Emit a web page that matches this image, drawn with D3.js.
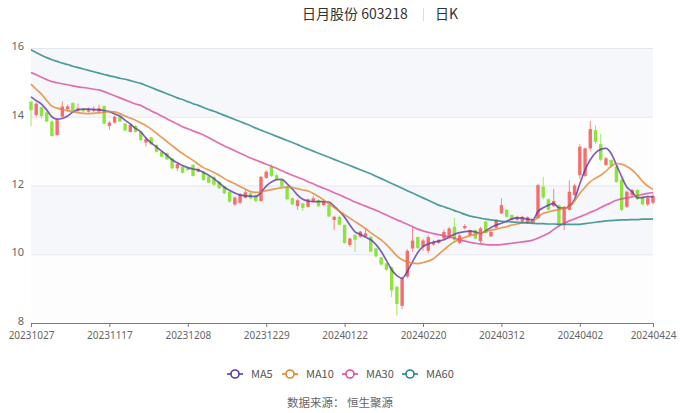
<!DOCTYPE html>
<html>
<head>
<meta charset="utf-8">
<script src="https://cdn.jsdelivr.net/npm/d3@7/dist/d3.min.js"></script>
<style>
	html, body { margin: 0; padding: 0; background: #fff; }
	svg text { font-family: "Noto Sans CJK SC", "Noto Sans", sans-serif; }
	svg .axis text { font-family: "Noto Sans", sans-serif; }
</style>
</head>
<body>
<svg id="chart" width="680" height="413"></svg>
<script>
// trading days 20231027 .. 20240424
var dates = [
	"20231027","20231030","20231031",
	"20231101","20231102","20231103","20231106","20231107","20231108","20231109","20231110","20231113","20231114","20231115","20231116","20231117","20231120","20231121","20231122","20231123","20231124","20231127","20231128","20231129","20231130",
	"20231201","20231204","20231205","20231206","20231207","20231208","20231211","20231212","20231213","20231214","20231215","20231218","20231219","20231220","20231221","20231222","20231225","20231226","20231227","20231228","20231229",
	"20240102","20240103","20240104","20240105","20240108","20240109","20240110","20240111","20240112","20240115","20240116","20240117","20240118","20240119","20240122","20240123","20240124","20240125","20240126","20240129","20240130","20240131",
	"20240201","20240202","20240205","20240206","20240207","20240208","20240219","20240220","20240221","20240222","20240223","20240226","20240227","20240228","20240229",
	"20240301","20240304","20240305","20240306","20240307","20240308","20240311","20240312","20240313","20240314","20240315","20240318","20240319","20240320","20240321","20240322","20240325","20240326","20240327","20240328","20240329",
	"20240401","20240402","20240403","20240408","20240409","20240410","20240411","20240412","20240415","20240416","20240417","20240418","20240419","20240422","20240423","20240424"
];

var opens = [
	14.44,14.05,14.28,14.12,13.86,13.47,14.0,14.22,14.4,14.2,
	14.22,14.15,14.18,14.15,14.31,13.73,13.83,14.0,13.8,13.56,
	13.73,13.56,13.25,13.4,13.18,12.98,12.94,12.79,12.5,12.55,
	12.5,12.6,12.4,12.4,12.26,12.25,12.11,11.97,11.82,11.45,
	11.5,11.64,11.77,11.72,11.55,12.22,12.55,12.3,12.16,11.97,
	11.63,11.4,11.48,11.38,11.54,11.58,11.43,11.43,11.0,11.09,
	10.85,10.27,10.56,10.51,10.52,10.51,10.17,9.91,9.73,9.62,
	9.05,8.5,9.35,10.17,10.5,10.22,10.1,10.28,10.33,10.46,
	10.47,10.8,10.33,10.76,10.56,10.7,10.38,10.95,10.52,10.77,
	11.19,11.29,11.14,11.0,10.95,10.9,10.9,11.05,11.97,11.6,
	11.4,11.43,10.85,11.29,11.72,12.3,12.28,13.08,13.61,13.2,
	12.6,12.74,12.55,12.16,11.38,11.72,11.87,11.67,11.45,11.5
];
var closes = [
	14.19,14.38,14.02,13.86,13.44,13.9,14.3,14.3,14.18,14.25,
	14.16,14.22,14.23,14.25,13.8,13.83,14.0,13.86,13.6,13.76,
	13.56,13.32,13.35,13.2,12.98,12.84,12.76,12.5,12.62,12.37,
	12.45,12.28,12.48,12.16,12.08,12.02,11.92,11.77,11.53,11.65,
	11.75,11.8,11.62,11.55,12.25,12.4,12.28,12.18,11.97,11.6,
	11.45,11.57,11.35,11.6,11.63,11.4,11.53,11.1,11.09,10.86,
	10.33,10.46,10.42,10.66,10.61,10.08,9.94,9.7,9.55,8.95,
	8.55,9.3,10.1,10.4,10.18,10.4,10.5,10.36,10.42,10.65,
	10.75,10.42,10.55,10.82,10.7,10.46,10.75,10.62,10.65,11.0,
	11.43,11.09,11.0,11.09,11.09,11.08,11.0,12.01,11.65,11.29,
	11.55,10.85,11.38,11.82,12.0,13.13,13.08,13.64,13.27,12.75,
	12.79,12.58,12.1,11.29,11.82,11.87,11.6,11.45,11.65,11.7
];
var highs = [
	14.46,14.42,14.3,14.15,13.9,13.95,14.45,14.35,14.42,14.38,
	14.26,14.27,14.3,14.35,14.33,13.88,14.03,14.03,13.82,13.78,
	13.75,13.58,13.42,13.42,13.2,13.0,12.96,12.8,12.65,12.57,
	12.52,12.62,12.52,12.42,12.28,12.27,12.13,11.99,11.84,11.68,
	11.78,11.88,11.8,11.74,12.28,12.45,12.62,12.35,12.18,11.99,
	11.65,11.6,11.5,11.62,11.7,11.6,11.55,11.45,11.12,11.1,
	10.87,10.48,10.6,10.68,10.75,10.53,10.19,9.93,9.75,9.65,
	9.1,9.35,10.15,10.8,10.52,10.45,10.55,10.42,10.45,10.72,
	10.8,11.05,10.58,10.88,10.72,10.72,10.8,10.97,10.68,11.02,
	11.63,11.32,11.16,11.12,11.12,11.1,11.02,12.05,12.25,11.62,
	11.9,11.45,11.4,12.15,12.05,13.2,13.1,13.88,13.75,13.5,
	12.83,12.76,12.58,12.2,11.85,11.9,11.9,11.7,11.7,11.75
];
var lows = [
	13.73,14.0,13.95,13.84,13.42,13.44,13.98,14.15,14.15,14.15,
	14.12,14.12,14.14,14.12,13.78,13.62,13.8,13.84,13.58,13.54,
	13.54,13.3,13.13,13.18,12.96,12.82,12.74,12.48,12.42,12.35,
	12.42,12.26,12.38,12.14,12.06,12.0,11.9,11.75,11.5,11.4,
	11.45,11.62,11.6,11.52,11.53,12.2,12.25,12.16,11.95,11.58,
	11.43,11.29,11.26,11.36,11.52,11.38,11.4,11.08,10.7,10.84,
	10.3,10.22,10.07,10.48,10.5,10.05,9.9,9.67,9.52,8.75,
	8.22,8.4,9.3,10.07,10.15,10.1,10.03,10.25,10.3,10.44,
	10.45,10.33,10.3,10.72,10.54,10.44,10.32,10.6,10.5,10.75,
	11.17,11.07,10.98,10.98,10.93,10.88,10.88,11.03,11.6,11.27,
	11.38,10.82,10.7,11.27,11.7,12.2,12.25,13.0,13.2,12.7,
	12.57,12.53,12.08,11.25,11.35,11.7,11.58,11.43,11.4,11.45
];

var ma5 = [
	14.58,14.47,14.37,14.2,14.0,13.93,13.95,14.02,14.14,14.2,
	14.22,14.22,14.21,14.2,14.18,14.15,14.08,14.02,13.9,13.79,
	13.66,13.56,13.38,13.24,13.12,13.0,12.88,12.75,12.66,12.58,
	12.52,12.48,12.45,12.38,12.3,12.2,12.08,11.95,11.86,11.78,
	11.72,11.7,11.69,11.68,11.8,11.98,12.1,12.17,12.18,12.05,
	11.9,11.72,11.6,11.55,11.53,11.53,11.53,11.52,11.4,11.25,
	11.08,10.85,10.65,10.58,10.5,10.42,10.28,10.08,9.82,9.55,
	9.38,9.3,9.5,9.78,10.05,10.22,10.3,10.35,10.38,10.42,
	10.5,10.58,10.63,10.66,10.67,10.65,10.61,10.68,10.78,10.85,
	10.9,10.96,11.03,11.06,11.05,11.02,11.0,11.25,11.35,11.43,
	11.48,11.35,11.34,11.4,11.6,12.05,12.45,12.75,12.95,13.05,
	13.08,12.93,12.6,12.26,11.95,11.82,11.65,11.65,11.68,11.67
];
var ma10 = [
	14.95,14.8,14.66,14.47,14.31,14.25,14.21,14.18,14.15,14.12,
	14.1,14.09,14.1,14.11,14.13,14.15,14.14,14.09,14.02,13.96,
	13.9,13.82,13.74,13.64,13.52,13.4,13.28,13.16,13.04,12.93,
	12.83,12.73,12.62,12.52,12.45,12.38,12.3,12.2,12.12,12.05,
	11.97,11.9,11.82,11.8,11.81,11.85,11.88,11.91,11.94,11.95,
	11.94,11.91,11.87,11.84,11.77,11.68,11.58,11.47,11.36,11.25,
	11.15,11.05,10.95,10.85,10.74,10.63,10.52,10.42,10.28,10.12,
	9.95,9.84,9.78,9.74,9.73,9.76,9.8,9.87,10.0,10.13,
	10.26,10.36,10.43,10.49,10.54,10.58,10.62,10.65,10.7,10.73,
	10.77,10.8,10.85,10.88,10.91,10.93,10.95,11.08,11.19,11.23,
	11.27,11.3,11.34,11.38,11.55,11.77,11.95,12.11,12.21,12.3,
	12.42,12.56,12.64,12.62,12.55,12.45,12.3,12.12,11.98,11.89
];
var ma30 = [
	15.29,15.22,15.15,15.08,15.02,14.99,14.96,14.93,14.9,14.87,
	14.85,14.83,14.8,14.78,14.73,14.67,14.61,14.55,14.49,14.43,
	14.37,14.33,14.25,14.17,14.1,14.02,13.94,13.86,13.79,13.71,
	13.65,13.59,13.53,13.47,13.39,13.31,13.23,13.15,13.08,13.01,
	12.94,12.87,12.8,12.74,12.68,12.62,12.56,12.5,12.43,12.36,
	12.3,12.24,12.18,12.11,12.05,11.98,11.92,11.86,11.79,11.73,
	11.66,11.59,11.52,11.46,11.4,11.34,11.28,11.21,11.14,11.07,
	11.0,10.94,10.87,10.8,10.73,10.68,10.64,10.6,10.57,10.54,
	10.51,10.47,10.42,10.38,10.35,10.32,10.3,10.28,10.27,10.27,
	10.28,10.3,10.32,10.34,10.36,10.38,10.41,10.47,10.54,10.61,
	10.72,10.82,10.9,10.97,11.03,11.09,11.15,11.22,11.28,11.36,
	11.43,11.5,11.57,11.61,11.64,11.67,11.71,11.74,11.77,11.79
];
var ma60 = [
	15.95,15.87,15.79,15.72,15.66,15.61,15.56,15.52,15.47,15.43,
	15.39,15.35,15.31,15.27,15.23,15.19,15.16,15.12,15.09,15.05,
	15.01,14.97,14.91,14.85,14.79,14.73,14.67,14.61,14.55,14.5,
	14.44,14.38,14.33,14.27,14.21,14.16,14.1,14.04,13.98,13.92,
	13.86,13.8,13.74,13.67,13.61,13.55,13.49,13.43,13.37,13.31,
	13.25,13.19,13.12,13.06,13.0,12.94,12.88,12.82,12.76,12.7,
	12.64,12.58,12.52,12.46,12.4,12.34,12.27,12.2,12.13,12.06,
	11.99,11.92,11.85,11.78,11.71,11.64,11.57,11.5,11.43,11.38,
	11.33,11.27,11.22,11.16,11.11,11.08,11.05,11.02,11.0,10.98,
	10.96,10.95,10.94,10.93,10.92,10.91,10.9,10.89,10.89,10.88,
	10.88,10.87,10.87,10.87,10.87,10.87,10.89,10.91,10.93,10.95,
	10.97,10.98,10.99,11.0,11.0,11.01,11.01,11.02,11.02,11.03
];

var yTicks = [8, 10, 12, 14, 16];
var xLabelDates = ["20231027","20231117","20231208","20231229","20240122","20240220","20240312","20240402","20240424"];

var maSeries = [
	{ name: "MA5",  values: ma5,  color: "#5c3aa8" },
	{ name: "MA10", values: ma10, color: "#e4852f" },
	{ name: "MA30", values: ma30, color: "#dd4b9d" },
	{ name: "MA60", values: ma60, color: "#238585" }
];

var upColor = "#f66d6d";
var downColor = "#8ce43c";

var svg = d3.select("#chart");
var plotLeft = 31, plotRight = 653, plotTop = 48, plotBottom = 323;

var x = d3.scalePoint().domain(dates).range([plotLeft, plotRight]);
var y = d3.scaleLinear().domain([8, 16]).range([plotBottom, plotTop]);

//title
var title = svg.append("g").attr("class", "title");
title.append("text")
	.attr("x", 355).attr("y", 19)
	.attr("text-anchor", "middle")
	.style("font-size", "14px")
	.attr("fill", "#333")
	.text("日月股份 603218");
title.append("line")
	.attr("x1", 423.5).attr("x2", 423.5)
	.attr("y1", 8).attr("y2", 21)
	.attr("stroke", "#ddd");
title.append("text")
	.attr("x", 435).attr("y", 19)
	.style("font-size", "14px")
	.attr("fill", "#333")
	.text("日K");

//split areas
var bands = d3.pairs(yTicks);
svg.append("g").selectAll("rect")
	.data(bands)
	.enter().append("rect")
	.attr("x", plotLeft)
	.attr("width", plotRight - plotLeft)
	.attr("y", function(d){ return y(d[1]); })
	.attr("height", function(d){ return y(d[0]) - y(d[1]); })
	.attr("fill", function(d, i){ return i % 2 == 0 ? "#fdfdfe" : "#f5f7fb"; });

//grid
svg.append("g").selectAll("line")
	.data(yTicks.slice(1))
	.enter().append("line")
	.attr("x1", plotLeft).attr("x2", plotRight)
	.attr("y1", function(d){ return y(d) + 0.5; })
	.attr("y2", function(d){ return y(d) + 0.5; })
	.attr("stroke", "#e4e7ef");

//y axis labels
var yAxis = svg.append("g").attr("class", "axis")
	.attr("transform", "translate(" + (plotLeft - 7) + ",-2)")
	.call(d3.axisLeft(y).tickValues(yTicks).tickSize(0).tickPadding(0));
yAxis.select(".domain").remove();
yAxis.selectAll("text")
	.style("font-size", "11px")
	.attr("fill", "#666");

//x axis
var xAxis = svg.append("g").attr("class", "axis")
	.attr("transform", "translate(0," + plotBottom + ")")
	.call(d3.axisBottom(x).tickValues(xLabelDates).tickSizeOuter(0).tickSize(4).tickPadding(5));
xAxis.select(".domain").attr("stroke", "#7a7a7a");
xAxis.selectAll(".tick line").attr("stroke", "#7a7a7a");
xAxis.selectAll("text")
	.style("font-size", "10px")
	.attr("fill", "#666");

//candles
var candles = svg.append("g").attr("class", "candles")
	.selectAll("g")
	.data(dates)
	.enter().append("g");
var bodyWidth = 3.4;
candles.append("line")
	.attr("x1", function(d){ return x(d); })
	.attr("x2", function(d){ return x(d); })
	.attr("y1", function(d, i){ return y(highs[i]); })
	.attr("y2", function(d, i){ return y(lows[i]); })
	.attr("stroke", function(d, i){ return closes[i] >= opens[i] ? upColor : downColor; })
	.attr("stroke-width", 1)
	.attr("opacity", 0.8);
candles.append("rect")
	.attr("x", function(d){ return x(d) - bodyWidth / 2; })
	.attr("width", bodyWidth)
	.attr("y", function(d, i){ return y(Math.max(opens[i], closes[i])); })
	.attr("height", function(d, i){ return Math.max(1, Math.abs(y(opens[i]) - y(closes[i]))); })
	.attr("fill", function(d, i){ return closes[i] >= opens[i] ? upColor : downColor; });

//ma lines
var line = d3.line()
	.x(function(d, i){ return x(dates[i]); })
	.y(function(d){ return y(d); })
	.curve(d3.curveMonotoneX);
svg.append("g").selectAll("path")
	.data(maSeries)
	.enter().append("path")
	.attr("d", function(d){ return line(d.values); })
	.attr("fill", "none")
	.attr("stroke", function(d){ return d.color; })
	.attr("stroke-width", 1.7)
	.attr("opacity", 0.8);

//legend
var legendX = [227, 282, 342, 402];
var legend = svg.append("g").selectAll("g")
	.data(maSeries)
	.enter().append("g")
	.attr("transform", function(d, i){ return "translate(" + legendX[i] + ",374)"; });
legend.append("line")
	.attr("x1", 0).attr("x2", 16)
	.attr("stroke", function(d){ return d.color; })
	.attr("stroke-width", 1.6);
legend.append("circle")
	.attr("cx", 8).attr("r", 4)
	.attr("fill", "#fff")
	.attr("stroke", function(d){ return d.color; })
	.attr("stroke-width", 1.6);
legend.append("text")
	.attr("x", 24).attr("dy", "0.35em")
	.style("font-size", "11px")
	.attr("fill", "#555")
	.text(function(d){ return d.name; });

//source
svg.append("text")
	.attr("x", 287).attr("y", 407)
	.style("font-size", "11.5px")
	.attr("fill", "#666")
	.text("数据来源：");
svg.append("text")
	.attr("x", 347).attr("y", 407)
	.style("font-size", "11.5px")
	.attr("fill", "#666")
	.text("恒生聚源");
</script>
</body>
</html>
